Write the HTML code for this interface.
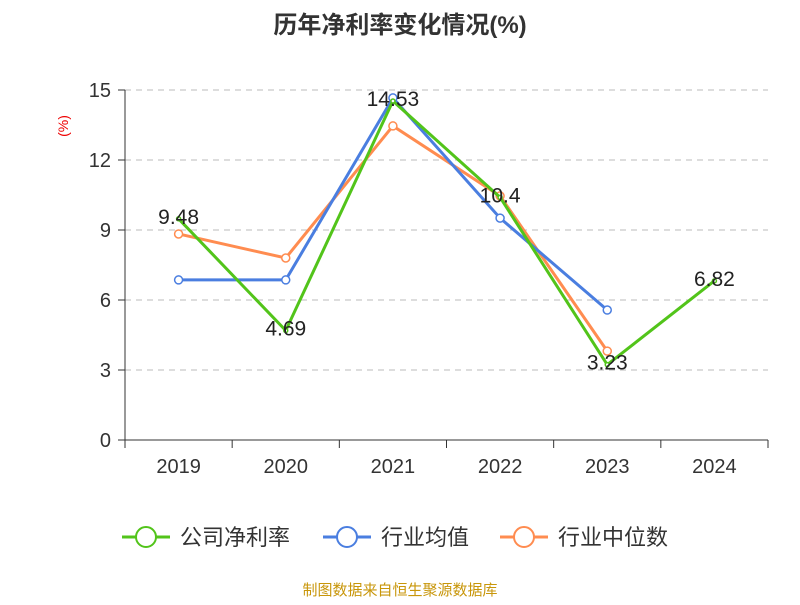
<!DOCTYPE html>
<html><head><meta charset="utf-8"><style>
body{margin:0;background:#fff;font-family:"Liberation Sans","Noto Sans CJK SC",sans-serif;}
</style></head><body>
<svg width="800" height="600" xmlns="http://www.w3.org/2000/svg" font-family="Liberation Sans, Noto Sans CJK SC, sans-serif">
<text x="400" y="33" text-anchor="middle" font-size="24" font-weight="bold" fill="#333">历年净利率变化情况(%)</text>
<text x="68" y="126" font-size="14" fill="#e00" transform="rotate(-90 68 126)" text-anchor="middle">(%)</text>
<g id="grid"></g><g id="axes"></g><g id="series"></g><g id="labels"></g>
<g font-size="22" fill="#333">
<g><line x1="122" y1="537" x2="170" y2="537" stroke="#52c41a" stroke-width="3"/><circle cx="146" cy="537" r="10" fill="#fff" stroke="#52c41a" stroke-width="2"/><text x="180" y="545">公司净利率</text></g>
<g><line x1="323" y1="537" x2="371" y2="537" stroke="#4a7ee0" stroke-width="3"/><circle cx="347" cy="537" r="10" fill="#fff" stroke="#4a7ee0" stroke-width="2"/><text x="381" y="545">行业均值</text></g>
<g><line x1="500" y1="537" x2="548" y2="537" stroke="#ff8c50" stroke-width="3"/><circle cx="524" cy="537" r="10" fill="#fff" stroke="#ff8c50" stroke-width="2"/><text x="558" y="545">行业中位数</text></g>
</g>
<text x="400" y="595" text-anchor="middle" font-size="15" fill="#c8960a">制图数据来自恒生聚源数据库</text>
</svg>
<script>
const categories=["2019","2020","2021","2022","2023","2024"];
const companyValues=[9.48,4.69,14.53,10.4,3.23,6.82];
const avgValues=[6.86,6.86,14.66,9.51,5.57,null];
const medianValues=[8.83,7.8,13.46,10.46,3.81,null];
const yTicks=[0,3,6,9,12,15];
const NS="http://www.w3.org/2000/svg";
const x0=125,x1=768,yTop=90,yBot=440,yMax=15;
const bw=(x1-x0)/categories.length;
const X=i=>x0+bw*(i+0.5), Y=v=>yBot-(v/yMax)*(yBot-yTop);
function mk(tag,attrs,parent,txt){const e=document.createElementNS(NS,tag);for(const k in attrs)e.setAttribute(k,attrs[k]);if(txt!=null)e.textContent=txt;document.getElementById(parent).appendChild(e);return e;}
yTicks.forEach(t=>{
 if(t>0){const l=mk('line',{x1:x0,x2:x1,y1:Y(t),y2:Y(t),stroke:'#bbb','stroke-dasharray':'6,5'},'grid');
 
 }
 const tk=mk('line',{x1:x0-7,x2:x0,y1:Y(t),y2:Y(t),stroke:'#333'},'axes');
 
 
 const tl=mk('text',{x:x0-14,y:Y(t)+7,'text-anchor':'end','font-size':20,fill:'#333'},'axes',String(t));
 
 
});
let a=mk('line',{x1:x0,x2:x0,y1:yTop,y2:yBot,stroke:'#333'},'axes');


a=mk('line',{x1:x0,x2:x1,y1:yBot,y2:yBot,stroke:'#333'},'axes');


for(let i=0;i<=categories.length;i++){const t=mk('line',{x1:x0+bw*i,x2:x0+bw*i,y1:yBot,y2:yBot+8,stroke:'#333'},'axes');
 
 }
categories.forEach((c,i)=>{const t=mk('text',{x:X(i),y:473,'text-anchor':'middle','font-size':20,fill:'#333'},'axes',c);
 
 });
function series(vals,color,name,r){
 const pts=vals.map((v,i)=>v==null?null:[X(i),Y(v)]).filter(p=>p);
 const p=mk('polyline',{points:pts.map(p=>p.join(',')).join(' '),fill:'none',stroke:color,'stroke-width':3},'series');
 
 
 pts.forEach(q=>{const c=mk('circle',{cx:q[0],cy:q[1],r:r,fill:'#fff',stroke:color,'stroke-width':1.5},'series');
 
 });
}
series(medianValues,'#ff8c50','industry-median',4);
series(avgValues,'#4a7ee0','industry-avg',4);
series(companyValues,'#52c41a','company',2);
companyValues.forEach((v,i)=>{
 const t=mk('text',{x:X(i),y:Y(v)+5,'text-anchor':'middle','font-size':21,fill:'#222'},'labels',String(v));
 
 });
</script>
</body></html>
